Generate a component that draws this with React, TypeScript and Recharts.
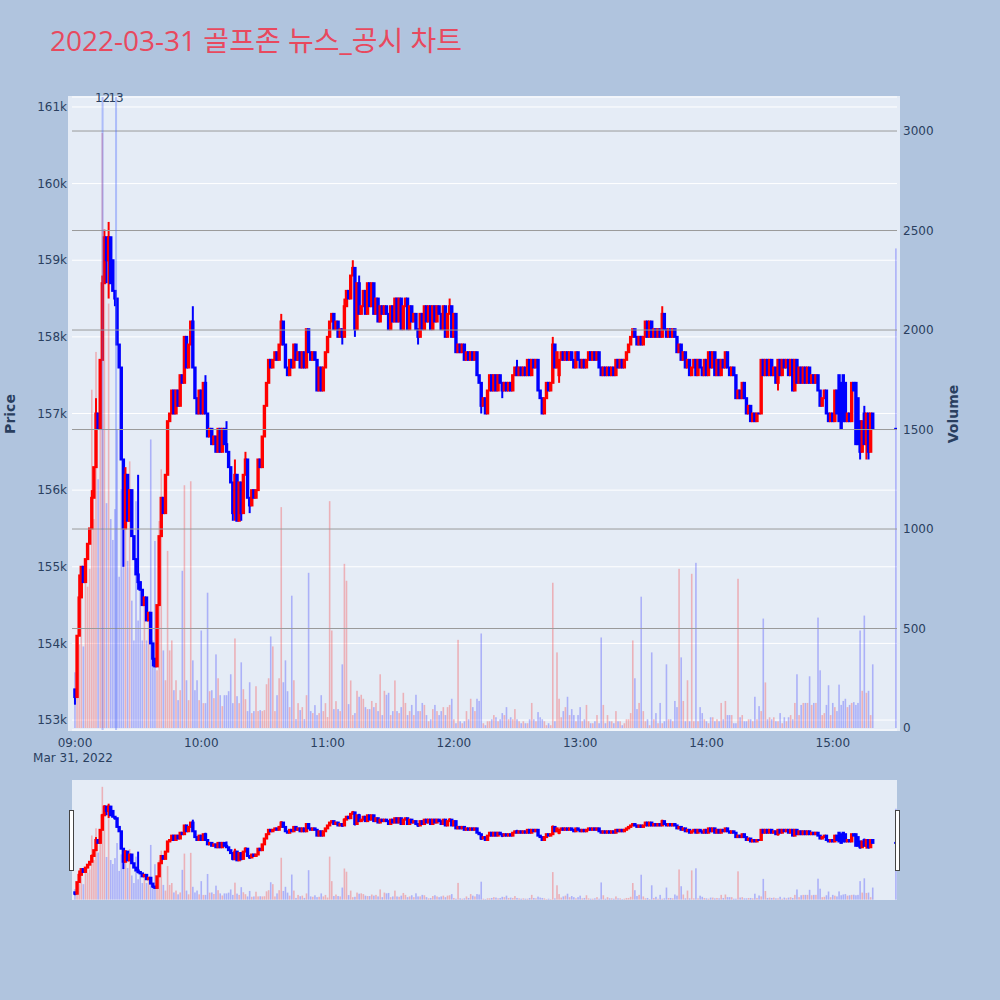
import React from "react";
import { ComposedChart, Bar, XAxis, YAxis, CartesianGrid, ReferenceLine } from "recharts";

// prices are in units of 100 won (1575 = 157,500)
const openP = [
  1534, 1533, 1541, 1546, 1550, 1548, 1551, 1553, 1555, 1559,
  1563, 1570, 1568, 1577, 1587, 1593, 1590, 1593, 1590, 1586,
  1585, 1579, 1576, 1564, 1555, 1562, 1556, 1560, 1554, 1551,
  1549, 1548, 1547, 1545, 1546, 1543, 1544, 1540, 1538, 1537,
  1545, 1554, 1559, 1557, 1562, 1569, 1570, 1573, 1570, 1573,
  1571, 1575, 1574, 1580, 1576, 1579, 1582, 1576, 1572, 1570,
  1573, 1570, 1574, 1570, 1567, 1568, 1566, 1567, 1565, 1568,
  1565, 1568, 1566, 1565, 1563, 1561, 1557, 1562, 1556, 1561,
  1557, 1562, 1564, 1559, 1558, 1560, 1559, 1560, 1564, 1563,
  1567, 1571, 1574, 1577, 1576, 1577, 1578, 1577, 1579, 1582,
  1579, 1576, 1575, 1577, 1576, 1579, 1577, 1578, 1576, 1578,
  1576, 1581, 1578, 1577, 1578, 1577, 1573, 1576, 1573, 1576,
  1578, 1580, 1582, 1583, 1581, 1582, 1580, 1581, 1580, 1584,
  1586, 1585, 1588, 1589, 1581, 1587, 1583, 1584, 1586, 1583,
  1587, 1584, 1587, 1583, 1585, 1582, 1584, 1583, 1584, 1583,
  1581, 1584, 1582, 1585, 1582, 1585, 1581, 1584, 1585, 1581,
  1584, 1582, 1583, 1581, 1580, 1583, 1581, 1584, 1582, 1584,
  1581, 1584, 1582, 1584, 1583, 1581, 1584, 1580, 1583, 1584,
  1580, 1583, 1578, 1579, 1578, 1579, 1577, 1578, 1577, 1578,
  1577, 1578, 1575, 1574, 1571, 1572, 1570, 1573, 1575, 1573,
  1575, 1573, 1575, 1574, 1573, 1574, 1573, 1574, 1573, 1575,
  1576, 1575, 1576, 1575, 1576, 1575, 1577, 1575, 1577, 1576,
  1577, 1573, 1572, 1570, 1572, 1574, 1573, 1574, 1579, 1576,
  1575, 1577, 1578, 1577, 1578, 1577, 1578, 1577, 1576, 1578,
  1577, 1576, 1577, 1576, 1577, 1578, 1577, 1578, 1577, 1578,
  1576, 1575, 1576, 1575, 1576, 1575, 1576, 1575, 1577, 1576,
  1577, 1576, 1577, 1578, 1579, 1580, 1581, 1580, 1579, 1580,
  1579, 1580, 1582, 1580, 1582, 1580, 1581, 1580, 1581, 1580,
  1583, 1581, 1580, 1581, 1580, 1581, 1580, 1578, 1579, 1577,
  1578, 1576, 1577, 1575, 1576, 1577, 1575, 1577, 1576, 1575,
  1577, 1575, 1578, 1576, 1578, 1575, 1577, 1575, 1577, 1576,
  1578, 1576, 1575, 1576, 1575, 1572, 1573, 1572, 1574, 1572,
  1570, 1571, 1569, 1570, 1569, 1570, 1570, 1577, 1575, 1577,
  1575, 1577, 1575, 1576, 1574, 1577, 1575, 1577, 1576, 1577,
  1575, 1577, 1573, 1577, 1574, 1576, 1574, 1576, 1574, 1576,
  1574, 1575, 1574, 1575, 1573, 1571, 1572, 1573, 1570, 1569,
  1570, 1569, 1573, 1575, 1574, 1575, 1574, 1569, 1570, 1569,
  1574, 1574, 1572, 1569, 1565, 1570, 1566, 1570, 1565, 1570,
  1568,
];
const highP = [
  1534, 1541, 1549, 1550, 1550, 1551, 1553, 1555, 1560, 1563,
  1572, 1570, 1577, 1588, 1594, 1593, 1595, 1593, 1590, 1586,
  1585, 1579, 1576, 1564, 1563, 1562, 1560, 1560, 1554, 1551,
  1562, 1548, 1547, 1546, 1546, 1544, 1544, 1540, 1538, 1545,
  1554, 1559, 1559, 1562, 1569, 1570, 1573, 1573, 1573, 1573,
  1575, 1575, 1580, 1580, 1579, 1582, 1584, 1576, 1572, 1573,
  1573, 1574, 1575, 1570, 1568, 1568, 1567, 1567, 1568, 1568,
  1568, 1568, 1569, 1565, 1563, 1561, 1564, 1562, 1561, 1561,
  1562, 1565, 1564, 1559, 1560, 1560, 1560, 1564, 1564, 1567,
  1571, 1574, 1577, 1577, 1577, 1578, 1578, 1579, 1583, 1582,
  1579, 1576, 1577, 1577, 1579, 1579, 1578, 1578, 1578, 1578,
  1581, 1581, 1578, 1578, 1578, 1577, 1576, 1576, 1576, 1578,
  1580, 1582, 1583, 1583, 1582, 1582, 1581, 1581, 1585, 1586,
  1586, 1588, 1590, 1589, 1587, 1588, 1584, 1586, 1586, 1587,
  1587, 1587, 1587, 1585, 1585, 1584, 1584, 1584, 1584, 1583,
  1584, 1584, 1585, 1585, 1585, 1585, 1584, 1585, 1585, 1584,
  1584, 1583, 1583, 1581, 1583, 1583, 1584, 1584, 1584, 1584,
  1584, 1584, 1584, 1584, 1583, 1584, 1584, 1583, 1585, 1584,
  1583, 1583, 1579, 1579, 1579, 1579, 1578, 1578, 1578, 1578,
  1578, 1578, 1575, 1574, 1572, 1572, 1573, 1575, 1575, 1575,
  1575, 1575, 1575, 1574, 1574, 1574, 1574, 1574, 1575, 1576,
  1577, 1576, 1576, 1576, 1576, 1577, 1577, 1577, 1577, 1577,
  1577, 1573, 1572, 1572, 1574, 1574, 1574, 1580, 1579, 1578,
  1577, 1578, 1578, 1578, 1578, 1578, 1578, 1577, 1578, 1578,
  1577, 1577, 1577, 1577, 1578, 1578, 1578, 1578, 1578, 1578,
  1576, 1576, 1576, 1576, 1576, 1576, 1576, 1577, 1577, 1577,
  1577, 1577, 1578, 1579, 1580, 1581, 1581, 1580, 1580, 1580,
  1580, 1582, 1582, 1582, 1582, 1581, 1581, 1581, 1581, 1584,
  1583, 1581, 1581, 1581, 1581, 1581, 1580, 1579, 1579, 1578,
  1578, 1577, 1577, 1576, 1577, 1577, 1577, 1577, 1576, 1577,
  1577, 1578, 1578, 1578, 1578, 1577, 1577, 1577, 1577, 1578,
  1578, 1576, 1576, 1576, 1575, 1573, 1573, 1574, 1574, 1572,
  1571, 1571, 1570, 1570, 1570, 1570, 1577, 1577, 1577, 1577,
  1577, 1577, 1576, 1576, 1577, 1577, 1577, 1577, 1577, 1577,
  1577, 1577, 1577, 1577, 1576, 1576, 1576, 1576, 1576, 1576,
  1575, 1575, 1575, 1575, 1573, 1572, 1573, 1573, 1570, 1570,
  1570, 1573, 1573, 1575, 1574, 1575, 1574, 1570, 1570, 1574,
  1574, 1574, 1572, 1569, 1569, 1571, 1570, 1570, 1570, 1570,
  1568,
];
const lowP = [
  1532, 1533, 1541, 1546, 1548, 1548, 1551, 1553, 1555, 1559,
  1563, 1568, 1568, 1577, 1587, 1587, 1585, 1587, 1586, 1584,
  1579, 1576, 1564, 1550, 1555, 1556, 1556, 1554, 1551, 1549,
  1547, 1547, 1545, 1545, 1543, 1543, 1540, 1537, 1537, 1537,
  1545, 1554, 1557, 1557, 1562, 1569, 1570, 1570, 1570, 1571,
  1571, 1574, 1574, 1576, 1576, 1579, 1576, 1572, 1570, 1570,
  1570, 1570, 1570, 1567, 1567, 1566, 1566, 1565, 1565, 1565,
  1565, 1566, 1565, 1563, 1561, 1556, 1556, 1556, 1556, 1556,
  1557, 1562, 1559, 1557, 1558, 1559, 1559, 1560, 1563, 1563,
  1567, 1571, 1574, 1576, 1576, 1577, 1577, 1577, 1579, 1579,
  1576, 1575, 1575, 1576, 1576, 1577, 1577, 1576, 1576, 1576,
  1576, 1578, 1577, 1577, 1577, 1573, 1573, 1573, 1573, 1576,
  1578, 1580, 1582, 1581, 1581, 1580, 1580, 1579, 1580, 1584,
  1585, 1585, 1588, 1580, 1581, 1583, 1583, 1584, 1583, 1583,
  1584, 1584, 1583, 1583, 1582, 1582, 1583, 1583, 1583, 1581,
  1581, 1582, 1582, 1582, 1582, 1581, 1581, 1584, 1581, 1581,
  1582, 1582, 1581, 1579, 1580, 1581, 1581, 1582, 1582, 1581,
  1581, 1582, 1582, 1583, 1581, 1581, 1580, 1580, 1583, 1580,
  1580, 1578, 1578, 1578, 1578, 1577, 1577, 1577, 1577, 1577,
  1577, 1575, 1574, 1570, 1571, 1570, 1570, 1573, 1573, 1573,
  1573, 1573, 1574, 1572, 1573, 1573, 1573, 1573, 1573, 1575,
  1575, 1575, 1575, 1575, 1575, 1575, 1575, 1575, 1576, 1576,
  1573, 1572, 1570, 1570, 1572, 1573, 1573, 1574, 1576, 1576,
  1574, 1577, 1577, 1577, 1577, 1577, 1577, 1576, 1576, 1577,
  1576, 1576, 1576, 1576, 1577, 1577, 1577, 1577, 1577, 1576,
  1575, 1575, 1575, 1575, 1575, 1575, 1575, 1575, 1576, 1576,
  1576, 1576, 1577, 1578, 1579, 1580, 1580, 1579, 1579, 1579,
  1579, 1580, 1580, 1580, 1580, 1580, 1580, 1580, 1580, 1580,
  1581, 1580, 1580, 1580, 1580, 1580, 1578, 1578, 1577, 1577,
  1576, 1576, 1575, 1575, 1576, 1575, 1575, 1576, 1575, 1575,
  1575, 1575, 1576, 1576, 1575, 1575, 1575, 1575, 1576, 1576,
  1576, 1575, 1575, 1575, 1572, 1572, 1572, 1572, 1572, 1570,
  1570, 1569, 1569, 1569, 1569, 1570, 1570, 1575, 1575, 1575,
  1575, 1575, 1575, 1574, 1573, 1575, 1575, 1576, 1576, 1575,
  1575, 1573, 1573, 1574, 1574, 1574, 1574, 1574, 1574, 1574,
  1574, 1574, 1574, 1573, 1571, 1571, 1572, 1570, 1569, 1569,
  1569, 1569, 1570, 1569, 1568, 1569, 1569, 1569, 1569, 1569,
  1573, 1566, 1566, 1564, 1565, 1566, 1564, 1564, 1565, 1568,
  1568,
];
const closeP = [
  1533, 1541, 1546, 1550, 1548, 1551, 1553, 1555, 1559, 1563,
  1570, 1568, 1577, 1587, 1593, 1590, 1593, 1587, 1586, 1585,
  1579, 1576, 1564, 1555, 1562, 1556, 1560, 1554, 1551, 1549,
  1548, 1547, 1545, 1546, 1543, 1544, 1540, 1538, 1537, 1545,
  1554, 1559, 1557, 1562, 1569, 1570, 1573, 1570, 1573, 1571,
  1575, 1574, 1580, 1576, 1579, 1582, 1576, 1572, 1570, 1573,
  1570, 1574, 1570, 1567, 1568, 1566, 1567, 1565, 1568, 1565,
  1568, 1566, 1565, 1563, 1561, 1557, 1562, 1556, 1561, 1557,
  1562, 1564, 1559, 1558, 1560, 1559, 1560, 1564, 1563, 1567,
  1571, 1574, 1577, 1576, 1577, 1578, 1577, 1579, 1582, 1579,
  1576, 1575, 1577, 1576, 1579, 1577, 1578, 1576, 1578, 1576,
  1581, 1578, 1577, 1578, 1577, 1573, 1576, 1573, 1576, 1578,
  1580, 1582, 1583, 1581, 1582, 1580, 1581, 1580, 1584, 1586,
  1585, 1588, 1589, 1581, 1587, 1583, 1584, 1586, 1583, 1587,
  1584, 1587, 1583, 1585, 1582, 1584, 1583, 1584, 1583, 1581,
  1584, 1582, 1585, 1582, 1585, 1581, 1584, 1585, 1581, 1584,
  1582, 1583, 1581, 1580, 1583, 1581, 1584, 1582, 1584, 1581,
  1584, 1582, 1584, 1583, 1581, 1584, 1580, 1583, 1584, 1580,
  1583, 1578, 1579, 1578, 1579, 1577, 1578, 1577, 1578, 1577,
  1578, 1575, 1574, 1571, 1572, 1570, 1573, 1575, 1573, 1575,
  1573, 1575, 1574, 1573, 1574, 1573, 1574, 1573, 1575, 1576,
  1575, 1576, 1575, 1576, 1575, 1577, 1575, 1577, 1576, 1577,
  1573, 1572, 1570, 1572, 1574, 1573, 1574, 1579, 1576, 1578,
  1577, 1578, 1577, 1578, 1577, 1578, 1577, 1576, 1578, 1577,
  1576, 1577, 1576, 1577, 1578, 1577, 1578, 1577, 1578, 1576,
  1575, 1576, 1575, 1576, 1575, 1576, 1575, 1577, 1576, 1577,
  1576, 1577, 1578, 1579, 1580, 1581, 1580, 1579, 1580, 1579,
  1580, 1582, 1580, 1582, 1580, 1581, 1580, 1581, 1580, 1583,
  1581, 1580, 1581, 1580, 1581, 1580, 1578, 1579, 1577, 1578,
  1576, 1577, 1575, 1576, 1577, 1575, 1577, 1576, 1575, 1577,
  1575, 1578, 1576, 1578, 1575, 1577, 1575, 1577, 1576, 1578,
  1576, 1575, 1576, 1575, 1572, 1573, 1572, 1574, 1572, 1570,
  1571, 1569, 1570, 1569, 1570, 1570, 1577, 1575, 1577, 1575,
  1577, 1575, 1576, 1574, 1577, 1575, 1577, 1576, 1577, 1575,
  1577, 1573, 1577, 1574, 1576, 1574, 1576, 1574, 1576, 1574,
  1575, 1574, 1575, 1573, 1571, 1572, 1573, 1570, 1569, 1570,
  1569, 1573, 1570, 1569, 1568, 1569, 1569, 1570, 1569, 1574,
  1573, 1566, 1566, 1565, 1569, 1566, 1570, 1565, 1570, 1568,
  1568,
];
const volume = [
  280, 330, 420, 660, 410, 730, 710, 800, 1700, 1050,
  1890, 1250, 1846, 2990, 2235, 1130, 2133, 1050, 945, 1100,
  1500, 760, 1200, 1300, 1190, 840, 1340, 640, 440, 1140,
  540, 740, 440, 640, 440, 540, 1450, 440, 940, 290,
  1040, 1300, 390, 240, 890, 390, 440, 190, 240, 140,
  190, 790, 1220, 240, 140, 1240, 340, 190, 240, 140,
  490, 125, 125, 680, 185, 190, 150, 370, 250, 165,
  110, 165, 165, 185, 270, 125, 450, 160, 125, 330,
  195, 145, 85, 230, 75, 85, 210, 85, 90, 85,
  90, 220, 250, 460, 410, 85, 165, 250, 1110, 230,
  340, 185, 105, 665, 240, 45, 125, 90, 105, 45,
  165, 780, 85, 75, 115, 65, 75, 165, 85, 125,
  55, 1140, 490, 95, 135, 95, 85, 320, 825, 740,
  120, 239, 65, 75, 187, 157, 167, 147, 105, 95,
  95, 136, 105, 126, 85, 270, 65, 187, 167, 177,
  65, 85, 239, 85, 75, 105, 177, 126, 65, 85,
  116, 65, 167, 85, 85, 126, 116, 65, 34, 44,
  95, 116, 85, 65, 85, 105, 65, 105, 116, 147,
  44, 24, 443, 34, 24, 34, 85, 44, 147, 105,
  85, 147, 136, 475, 24, 14, 34, 34, 44, 65,
  54, 34, 44, 75, 65, 105, 44, 54, 44, 95,
  44, 34, 24, 34, 24, 24, 44, 126, 44, 34,
  80, 54, 44, 34, 14, 24, 14, 730, 34, 380,
  147, 54, 85, 105, 157, 65, 95, 65, 34, 65,
  105, 34, 44, 116, 34, 24, 24, 34, 65, 24,
  455, 116, 24, 65, 34, 34, 24, 85, 34, 34,
  14, 24, 44, 44, 75, 440, 250, 95, 126, 660,
  85, 34, 44, 14, 380, 44, 75, 24, 126, 24,
  34, 320, 44, 44, 34, 136, 105, 800, 355, 136,
  34, 240, 34, 775, 34, 830, 34, 105, 75, 44,
  34, 24, 54, 54, 34, 44, 34, 126, 44, 136,
  65, 65, 65, 24, 24, 750, 54, 65, 34, 34,
  44, 44, 34, 157, 44, 110, 85, 550, 229, 44,
  54, 44, 54, 34, 34, 75, 24, 54, 34, 54,
  65, 44, 126, 270, 65, 116, 126, 126, 126, 260,
  116, 126, 126, 555, 290, 65, 75, 116, 215, 65,
  126, 105, 85, 218, 116, 136, 147, 105, 116, 126,
  130, 116, 126, 490, 187, 565, 177, 187, 65, 320,
  2410,
];

// minutes after 09:00, one per bar; the last one is the 15:30 closing auction
const minuteIndex = [...Array.from({ length: 380 }, (_, i) => i), 390];

const priceTicks = [1530, 1540, 1550, 1560, 1570, 1580, 1590, 1600, 1610];
const volumeTicks = [0, 500, 1000, 1500, 2000, 2500, 3000];
const volumeGrid = [500, 1000, 1500, 2000, 2500, 3000];
const timeTicks = [0, 60, 120, 180, 240, 300, 360];
const timeLabels = ["09:00", "10:00", "11:00", "12:00", "13:00", "14:00", "15:00"];
const newsMarks = [
  { t: 13.1, label: "12" },
  { t: 19.5, label: "13" },
];

const xDomain = [-1.43, 390.5];
const priceDomain = [1528.7, 1611.3];
const volDomain = [-10, 3171];

const data = minuteIndex.map((t, i) => ({
  t,
  o: openP[i],
  h: highP[i],
  l: lowP[i],
  c: closeP[i],
  v: volume[i],
  range: [lowP[i], highP[i]],
}));

const UP = "#ff0000";
const DOWN = "#0000ff";
const tickFont = "'DejaVu Sans', Verdana, sans-serif";
const tickColor = "#2a3f5f";

function Candle(props: any) {
  const { x, y, width, height, payload } = props;
  if (payload == null || x == null || y == null) return null;
  const top = Math.min(y, y + height);
  const span = Math.abs(height);
  const ppu = payload.h > payload.l ? span / (payload.h - payload.l) : 0;
  const bTop = top + (payload.h - Math.max(payload.o, payload.c)) * ppu;
  const bBot = top + (payload.h - Math.min(payload.o, payload.c)) * ppu;
  const color = payload.c > payload.o ? UP : DOWN;
  const cx = x + width / 2;
  return (
    <g>
      {span > 0 && <line x1={cx} x2={cx} y1={top} y2={top + span} stroke={color} strokeWidth={2} />}
      {bBot - bTop > 0.5 ? (
        <rect x={cx - 0.7} y={bTop} width={1.4} height={bBot - bTop} fill={color} stroke={color} strokeWidth={2} />
      ) : (
        <line x1={cx - 1.7} x2={cx + 1.7} y1={bTop} y2={bTop} stroke={color} strokeWidth={2} />
      )}
    </g>
  );
}

function VolBar(props: any) {
  const { x, y, width, height, payload } = props;
  if (payload == null || x == null || y == null) return null;
  const top = Math.min(y, y + height);
  const h = Math.abs(height);
  const color = payload.c > payload.o ? "rgba(255,0,0,0.25)" : "rgba(0,0,255,0.25)";
  return <rect x={x + width / 2 - 0.8} y={top} width={1.6} height={h} fill={color} />;
}

function TimeTick(props: any) {
  const { x, y, payload } = props;
  const idx = timeTicks.indexOf(payload.value);
  return (
    <text x={x} y={y} textAnchor="middle" fill={tickColor} fontSize={12} fontFamily={tickFont}>
      <tspan x={x} dy="0.71em">{timeLabels[idx]}</tspan>
      {idx === 0 && (
        <tspan x={x - 2} dy={15}>Mar 31, 2022</tspan>
      )}
    </text>
  );
}

function NewsLabel(props: any) {
  const { viewBox, value } = props;
  if (!viewBox) return null;
  return (
    <text x={viewBox.x} y={viewBox.y + 5} textAnchor="middle" fill={tickColor} fontSize={12} fontFamily={tickFont}>
      {value}
    </text>
  );
}

export default function App() {
  return (
    <div style={{ position: "relative", width: 1000, height: 1000, background: "#b0c4de", overflow: "hidden" }}>
      <style>{"body{margin:0}"}</style>
      <div style={{ position: "absolute", left: 68, top: 96, width: 832, height: 635, background: "#e5ecf6" }} />
      <div style={{ position: "absolute", left: 0, top: 0 }}>
        <ComposedChart width={1000} height={780} data={data} margin={{ top: 97, right: 0, bottom: 20, left: 0 }}>
          <CartesianGrid xAxisId="p" yAxisId="price" vertical={false} stroke="#ffffff" strokeWidth={1} />
          {volumeGrid.map((v) => (
            <ReferenceLine key={v} xAxisId="v" yAxisId="vol" y={v} stroke="#9a9a9a" strokeWidth={1} />
          ))}
          <XAxis
            xAxisId="p"
            dataKey="t"
            type="number"
            domain={xDomain}
            ticks={timeTicks}
            interval={0}
            tick={<TimeTick />}
            tickLine={false}
            axisLine={false}
            tickSize={0}
            tickMargin={8}
            height={30}
            allowDataOverflow
          />
          <XAxis xAxisId="v" dataKey="t" type="number" domain={xDomain} hide allowDataOverflow />
          <YAxis
            yAxisId="price"
            orientation="left"
            width={72}
            domain={priceDomain}
            ticks={priceTicks}
            interval={0}
            tickFormatter={(v: number) => `${v / 10}k`}
            tick={{ fill: tickColor, fontSize: 12, fontFamily: tickFont }}
            tickLine={false}
            axisLine={false}
            tickSize={0}
            tickMargin={5}
            allowDataOverflow
          />
          <YAxis
            yAxisId="vol"
            orientation="right"
            width={103}
            domain={volDomain}
            ticks={volumeTicks}
            interval={0}
            tick={{ fill: tickColor, fontSize: 12, fontFamily: tickFont }}
            tickLine={false}
            axisLine={false}
            tickSize={0}
            tickMargin={6}
            allowDataOverflow
          />
          <Bar xAxisId="v" yAxisId="vol" dataKey="v" barSize={2} shape={<VolBar />} isAnimationActive={false} />
          <Bar xAxisId="p" yAxisId="price" dataKey="range" barSize={2} shape={<Candle />} isAnimationActive={false} />
          {newsMarks.map((n) => (
            <ReferenceLine
              key={n.label}
              xAxisId="v"
              yAxisId="vol"
              x={n.t}
              stroke="rgba(70,100,255,0.35)"
              strokeWidth={2}
              label={<NewsLabel value={n.label} />}
            />
          ))}
        </ComposedChart>
      </div>

      <div style={{ position: "absolute", left: 72, top: 780, width: 825, height: 120, background: "#e5ecf6" }}>
        <ComposedChart width={825} height={120} data={data} margin={{ top: 0, right: 0, bottom: 0, left: 0 }}>
          <XAxis xAxisId="p" dataKey="t" type="number" domain={xDomain} hide allowDataOverflow />
          <XAxis xAxisId="v" dataKey="t" type="number" domain={xDomain} hide allowDataOverflow />
          <YAxis yAxisId="price" domain={priceDomain} hide allowDataOverflow />
          <YAxis yAxisId="vol" domain={volDomain} hide allowDataOverflow />
          <Bar xAxisId="v" yAxisId="vol" dataKey="v" barSize={2} shape={<VolBar />} isAnimationActive={false} />
          <Bar xAxisId="p" yAxisId="price" dataKey="range" barSize={2} shape={<Candle />} isAnimationActive={false} />
        </ComposedChart>
      </div>
      <div style={{ position: "absolute", left: 69, top: 810, width: 5, height: 61, boxSizing: "border-box", background: "#fff", border: "1px solid #444" }} />
      <div style={{ position: "absolute", left: 895, top: 810, width: 5, height: 61, boxSizing: "border-box", background: "#fff", border: "1px solid #444" }} />

      <svg width={1000} height={1000} style={{ position: "absolute", left: 0, top: 0, pointerEvents: "none" }}>
        <text x={50} y={51} fontSize={28} fill="#e8495e" fontFamily="'Open Sans', 'Noto Sans CJK KR', sans-serif">
          2022-03-31 골프존 뉴스_공시 차트
        </text>
        <text
          x={10}
          y={414}
          transform="rotate(-90 10 414)"
          textAnchor="middle"
          dominantBaseline="central"
          fontSize={14}
          fontWeight="bold"
          fill={tickColor}
          fontFamily={tickFont}
        >
          Price
        </text>
        <text
          x={953}
          y={414}
          transform="rotate(-90 953 414)"
          textAnchor="middle"
          dominantBaseline="central"
          fontSize={14}
          fontWeight="bold"
          fill={tickColor}
          fontFamily={tickFont}
        >
          Volume
        </text>
      </svg>
    </div>
  );
}
